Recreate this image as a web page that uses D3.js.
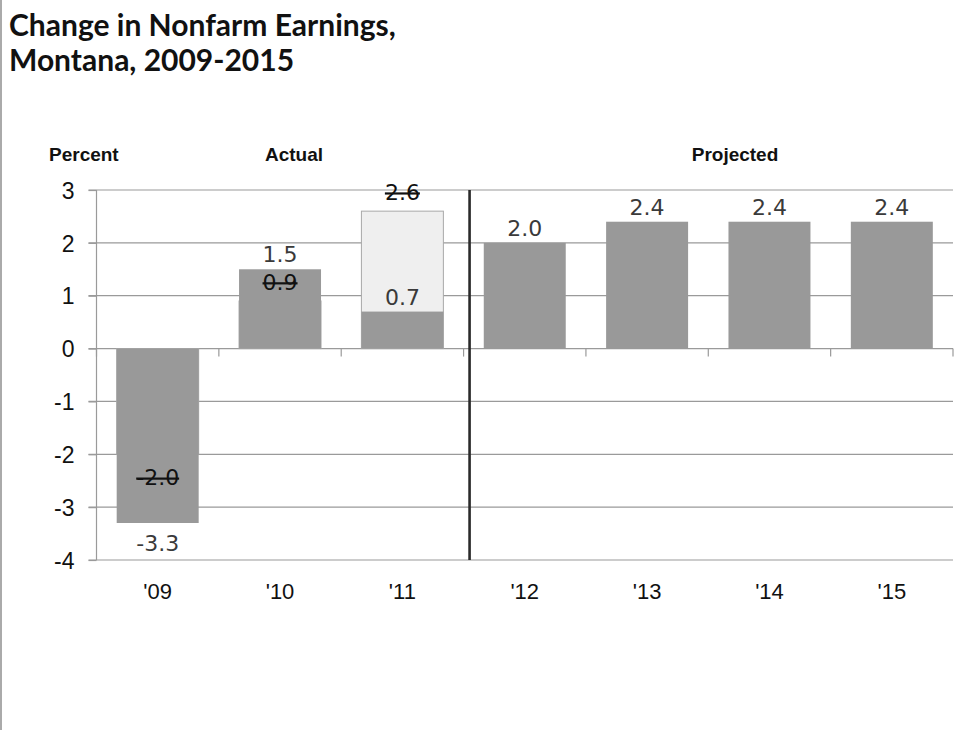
<!DOCTYPE html>
<html>
<head>
<meta charset="utf-8">
<script src="https://cdn.jsdelivr.net/npm/d3@7"></script>
<style>
  body { margin: 0; background: #fff; }
  svg { display: block; }
</style>
</head>
<body>
<div id="chart"></div>
<script>
// montana nonfarm earnings, actual vs earlier (struck out) numbers
const years = ["'09", "'10", "'11", "'12", "'13", "'14", "'15"];
const current = [-3.3, 1.5, 0.7, 2.0, 2.4, 2.4, 2.4];
const previous = [-2.0, 0.9, 2.6, null, null, null, null];
const yTicks = [3, 2, 1, 0, -1, -2, -3, -4];

const width = 968;
const height = 730;
const marginTop = 190;
const marginBottom = 170;
const marginLeft = 96.5;
const marginRight = 15;

const fmt1 = v => v.toFixed(1);   // plain hyphen for negatives, like the slide

var svg = d3.select("#chart")
.append("svg")
    .attr("width", width)
    .attr("height", height);

// grey edge on the left of the slide
svg.append("line")
    .attr("x1", 1).attr("x2", 1)
    .attr("y1", 0).attr("y2", height)
    .attr("stroke", "#aaa")
    .attr("stroke-width", 2);

// title
const title = svg.append("text")
    .style("font-family", "Lato, 'Open Sans', sans-serif")
    .style("font-weight", "bold")
    .style("font-size", "30px")
    .attr("fill", "#111");
title.append("tspan").attr("x", 9).attr("y", 36).text("Change in Nonfarm Earnings,");
title.append("tspan").attr("x", 9).attr("y", 71).text("Montana, 2009-2015");

var x = d3.scaleBand()
    .domain(years)
    .range([marginLeft, width - marginRight])
    .paddingInner(0.33)
    .paddingOuter(0.165);
var y = d3.scaleLinear([-4, 3], [height - marginBottom, marginTop]);
const step = x.step();
const x0 = marginLeft, x1 = width - marginRight;

// grid lines
svg.selectAll("line.grid")
    .data(yTicks)
    .join("line")
    .attr("class", "grid")
    .attr("x1", x0 - 8)
    .attr("x2", x1)
    .attr("y1", d => y(d))
    .attr("y2", d => y(d))
    .attr("stroke", "#9a9a9a")
    .attr("stroke-width", 1.2);

// y axis
svg.append("g")
    .attr("transform", `translate(${x0},0)`)
    .call(d3.axisLeft(y).tickValues(yTicks).tickSize(8).tickPadding(14).tickFormat(d => String(d)))
    .call(g => g.selectAll("line, path").attr("stroke", "#9a9a9a").attr("stroke-width", 1.2))
    .call(g => g.select(".domain").attr("d", `M-0,${y(3)}V${y(-4)}`))
    .selectAll("text")
    .attr("fill", "#111")
    .style("font-family", "'Liberation Sans', Arial, sans-serif")
    .style("font-size", "23px")
    .attr("dy", "0.36em");

// category ticks along zero line
svg.selectAll("line.xtick")
    .data(d3.range(years.length + 1))
    .join("line")
    .attr("class", "xtick")
    .attr("x1", i => x0 + i * step)
    .attr("x2", i => x0 + i * step)
    .attr("y1", y(0))
    .attr("y2", y(0) + 8)
    .attr("stroke", "#9a9a9a")
    .attr("stroke-width", 1.2);

// x labels
svg.selectAll("text.xlab")
    .data(years)
    .join("text")
    .attr("class", "xlab")
    .attr("x", d => x(d) + x.bandwidth() / 2)
    .attr("y", 599)
    .attr("text-anchor", "middle")
    .attr("fill", "#111")
    .style("font-family", "'Liberation Sans', Arial, sans-serif")
    .style("font-size", "22px")
    .text(d => d);

// earlier estimate bars (light)
const prevData = years.map((d, i) => ({ year: d, value: previous[i] })).filter(d => d.value !== null);
svg.selectAll("rect.prev")
    .data(prevData)
    .join("rect")
    .attr("class", "prev")
    .attr("x", d => x(d.year))
    .attr("width", x.bandwidth())
    .attr("y", d => y(Math.max(0, d.value)))
    .attr("height", d => Math.abs(y(d.value) - y(0)))
    .attr("fill", "#efefef")
    .attr("stroke", "#a8a8a8")
    .attr("stroke-width", 1);

// current bars
const curData = years.map((d, i) => ({ year: d, value: current[i] }));
svg.selectAll("rect.cur")
    .data(curData)
    .join("rect")
    .attr("class", "cur")
    .attr("x", d => x(d.year))
    .attr("width", x.bandwidth())
    .attr("y", d => y(Math.max(0, d.value)))
    .attr("height", d => Math.abs(y(d.value) - y(0)))
    .attr("fill", "#999999");

// divider between actual and projected
svg.append("line")
    .attr("x1", x0 + 3 * step + 6)
    .attr("x2", x0 + 3 * step + 6)
    .attr("y1", y(3))
    .attr("y2", y(-4))
    .attr("stroke", "#2a2a2a")
    .attr("stroke-width", 2.6);

// value labels
svg.selectAll("text.val")
    .data(curData)
    .join("text")
    .attr("class", "val")
    .attr("x", d => x(d.year) + x.bandwidth() / 2)
    .attr("y", d => d.value < 0 ? y(d.value) + 28 : y(d.value) - 7)
    .attr("text-anchor", "middle")
    .attr("fill", "#3a3a3a")
    .style("font-family", "'DejaVu Sans', sans-serif")
    .style("font-size", "22px")
    .text(d => fmt1(d.value));

// struck out earlier estimates
svg.selectAll("text.old")
    .data(prevData)
    .join("text")
    .attr("class", "old")
    .attr("x", d => x(d.year) + x.bandwidth() / 2)
    .attr("y", d => d.value < 0 ? y(d.value) + 31 : y(d.value) - 11)
    .attr("text-anchor", "middle")
    .attr("fill", "#111")
    .style("font-family", "'DejaVu Sans', sans-serif")
    .style("font-size", "22px")
    .style("text-decoration", "line-through")
    .text(d => fmt1(d.value));

// headers
const headers = [
    { text: "Percent", x: 49, anchor: "start" },
    { text: "Actual", x: 294, anchor: "middle" },
    { text: "Projected", x: 735, anchor: "middle" }
];
svg.selectAll("text.head")
    .data(headers)
    .join("text")
    .attr("class", "head")
    .attr("x", d => d.x)
    .attr("y", 161)
    .attr("text-anchor", d => d.anchor)
    .attr("fill", "#111")
    .style("font-family", "'Liberation Sans', Arial, sans-serif")
    .style("font-weight", "bold")
    .style("font-size", "19px")
    .text(d => d.text);
</script>
</body>
</html>
